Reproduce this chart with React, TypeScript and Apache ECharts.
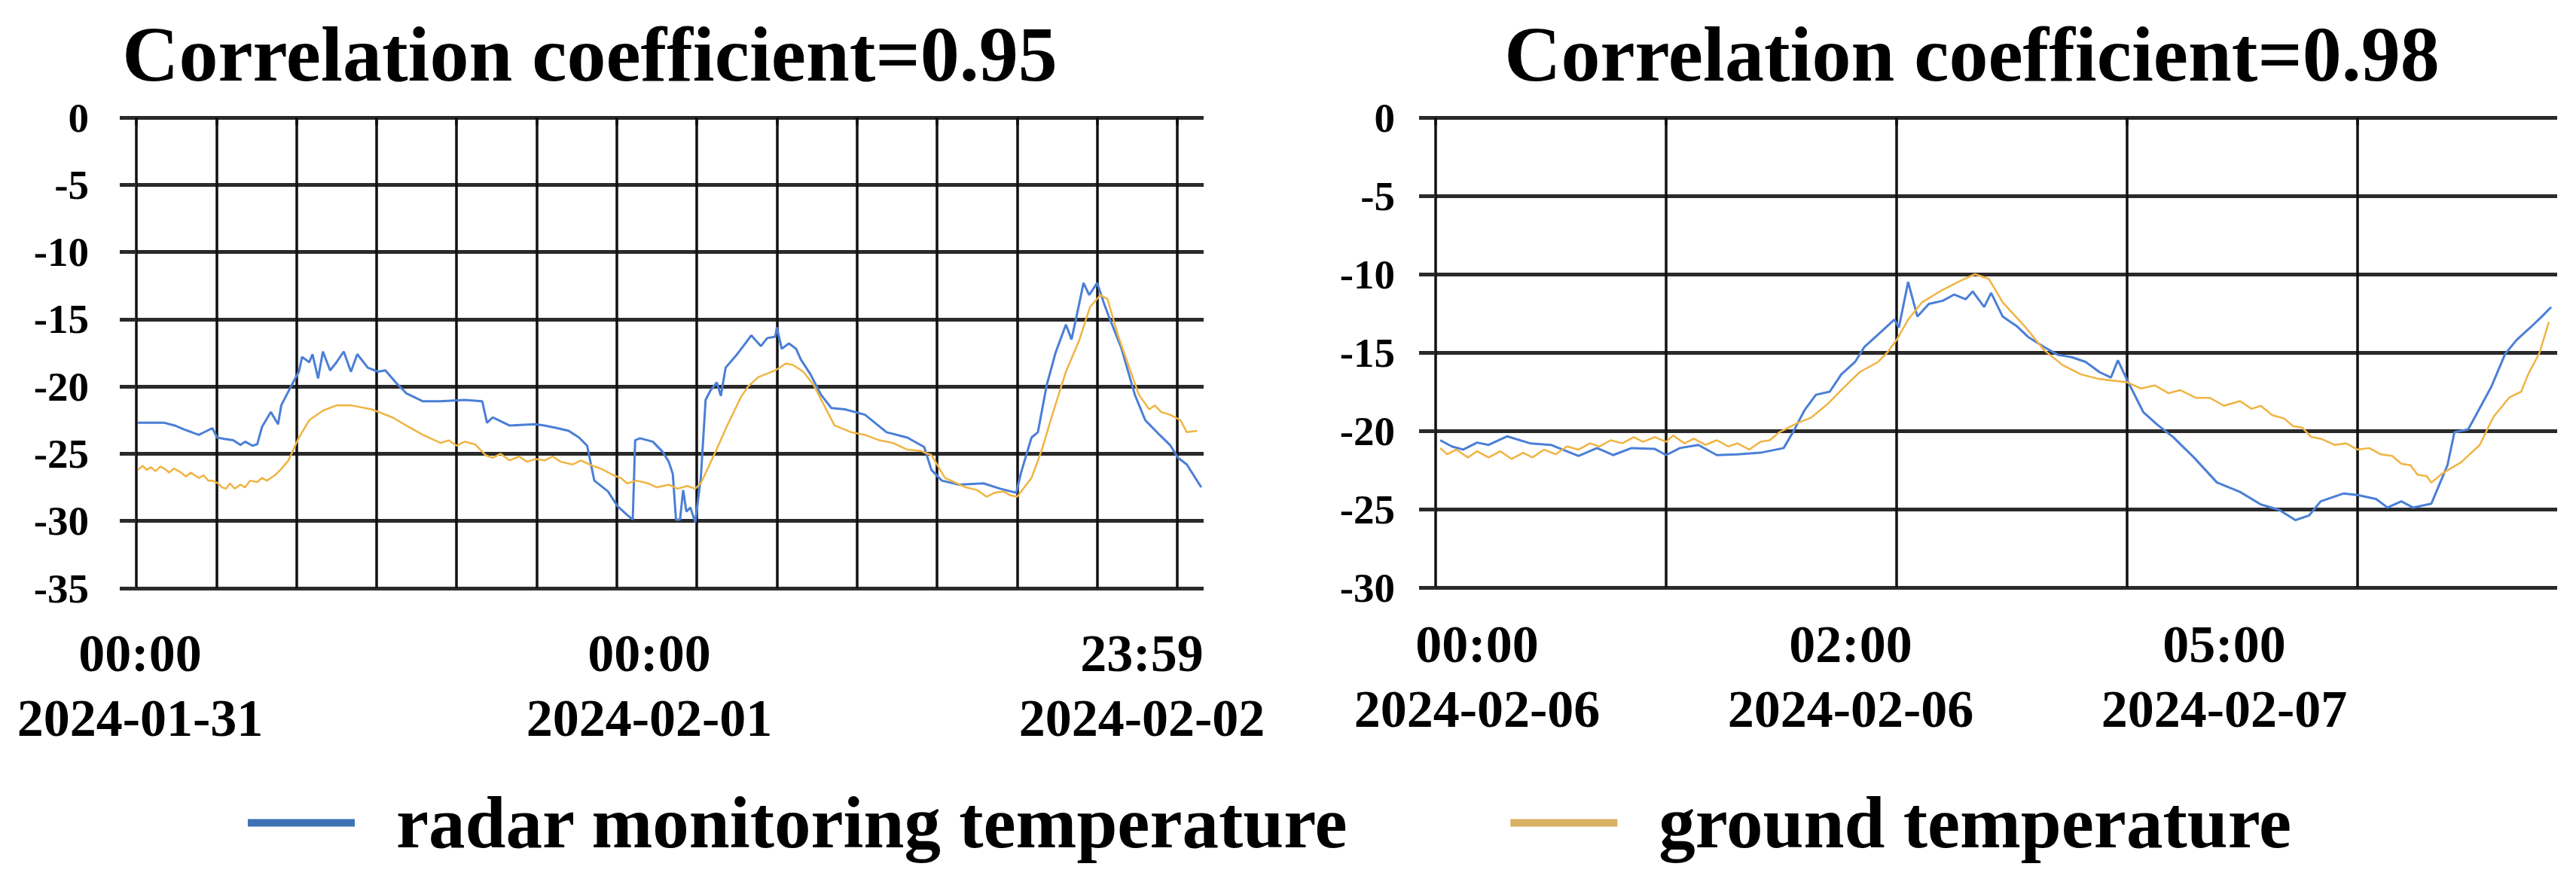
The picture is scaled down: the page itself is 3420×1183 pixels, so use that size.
import React, { useEffect, useRef } from "react";
import * as echarts from "echarts";

// ---- DATA (x in grid steps, y in °C) ----
const leftRadar: [number, number][] = [
  [0.02, -22.7], [0.2, -22.7], [0.35, -22.7], [0.48, -22.9], [0.6, -23.2], [0.78, -23.6], [0.83, -23.45],
  [0.95, -23.1], [1.01, -23.8], [1.1, -23.9], [1.21, -24.0], [1.3, -24.35], [1.36, -24.1], [1.45, -24.4],
  [1.51, -24.3], [1.57, -23.0], [1.68, -21.9], [1.77, -22.8], [1.81, -21.4], [1.94, -19.9], [2.03, -18.9],
  [2.07, -17.8], [2.16, -18.2], [2.2, -17.6], [2.27, -19.4], [2.33, -17.4], [2.42, -18.8], [2.5, -18.2],
  [2.59, -17.4], [2.68, -18.9], [2.76, -17.6], [2.89, -18.6], [3.02, -18.9], [3.11, -18.8], [3.24, -19.7],
  [3.37, -20.5], [3.58, -21.1], [3.8, -21.1], [4.1, -21.0], [4.32, -21.1], [4.38, -22.7], [4.45, -22.3],
  [4.66, -22.9], [4.98, -22.8], [5.1, -22.9], [5.26, -23.1], [5.4, -23.3], [5.53, -23.8], [5.63, -24.4],
  [5.72, -27.0], [5.89, -27.8], [6.01, -28.9], [6.14, -29.6], [6.2, -29.9], [6.23, -24.0], [6.29, -23.85],
  [6.45, -24.1], [6.58, -24.9], [6.65, -25.6], [6.7, -26.5], [6.74, -29.9], [6.79, -29.9], [6.83, -27.7],
  [6.87, -29.3], [6.92, -29.0], [6.98, -30.1], [7.05, -26.8], [7.11, -21.0], [7.17, -20.3], [7.25, -19.7],
  [7.3, -20.7], [7.36, -18.6], [7.49, -17.7], [7.58, -17.0], [7.68, -16.2], [7.8, -17.0], [7.88, -16.4],
  [7.98, -16.3], [8.0, -15.6], [8.06, -17.2], [8.15, -16.8], [8.24, -17.2], [8.3, -18.0], [8.42, -19.1],
  [8.55, -20.6], [8.68, -21.6], [8.85, -21.7], [9.1, -22.1], [9.37, -23.4], [9.63, -23.8], [9.84, -24.5],
  [9.93, -26.2], [10.06, -27.0], [10.27, -27.3], [10.58, -27.2], [10.79, -27.6], [10.99, -27.9],
  [11.05, -26.4], [11.18, -23.8], [11.26, -23.4], [11.37, -19.9], [11.48, -17.5], [11.61, -15.4],
  [11.68, -16.5], [11.76, -14.3], [11.83, -12.3], [11.9, -13.2], [12.0, -12.3], [12.09, -13.9],
  [12.15, -14.85], [12.3, -17.1], [12.47, -20.6], [12.6, -22.5], [12.78, -23.6], [12.91, -24.35],
  [13.01, -25.3], [13.12, -25.8], [13.3, -27.5],
];

const leftGround: [number, number][] = [
  [0.02, -26.2], [0.08, -25.9], [0.13, -26.2], [0.18, -26.0], [0.24, -26.3], [0.3, -25.95], [0.35, -26.1],
  [0.41, -26.4], [0.47, -26.1], [0.56, -26.4], [0.62, -26.7], [0.68, -26.4], [0.78, -26.8], [0.84, -26.6],
  [0.9, -27.0], [0.95, -27.0], [1.02, -27.2], [1.07, -27.5], [1.12, -27.6], [1.17, -27.2], [1.23, -27.6],
  [1.3, -27.3], [1.36, -27.5], [1.42, -27.0], [1.51, -27.1], [1.57, -26.8], [1.63, -27.0], [1.73, -26.6],
  [1.8, -26.2], [1.9, -25.5], [2.03, -23.8], [2.16, -22.5], [2.33, -21.8], [2.5, -21.4], [2.68, -21.4],
  [2.94, -21.7], [3.2, -22.3], [3.37, -22.9], [3.58, -23.6], [3.8, -24.2], [3.9, -24.0], [4.0, -24.4],
  [4.1, -24.1], [4.23, -24.3], [4.36, -25.1], [4.45, -25.3], [4.55, -25.0], [4.66, -25.5], [4.78, -25.2],
  [4.88, -25.6], [4.98, -25.4], [5.1, -25.5], [5.2, -25.2], [5.3, -25.6], [5.45, -25.8], [5.55, -25.5],
  [5.7, -25.9], [5.8, -26.1], [5.96, -26.6], [6.05, -26.8], [6.13, -27.2], [6.25, -27.0], [6.39, -27.2],
  [6.5, -27.5], [6.65, -27.3], [6.76, -27.6], [6.88, -27.4], [6.98, -27.6], [7.05, -27.2], [7.23, -24.9],
  [7.38, -22.9], [7.55, -20.8], [7.64, -20.0], [7.77, -19.3], [7.98, -18.8], [8.11, -18.3], [8.2, -18.4],
  [8.33, -18.9], [8.46, -19.9], [8.59, -21.4], [8.72, -22.9], [8.93, -23.4], [9.1, -23.6], [9.28, -24.0],
  [9.45, -24.2], [9.63, -24.7], [9.8, -24.8], [9.93, -25.1], [10.1, -26.8], [10.36, -27.5], [10.5, -27.7],
  [10.62, -28.2], [10.72, -27.9], [10.83, -27.8], [10.92, -28.1], [11.0, -28.2], [11.18, -26.8],
  [11.31, -24.7], [11.44, -22.1], [11.61, -18.9], [11.78, -16.5], [11.91, -14.1], [12.04, -13.2],
  [12.13, -13.5], [12.26, -16.2], [12.39, -18.4], [12.52, -20.6], [12.65, -21.7], [12.72, -21.4],
  [12.8, -21.9], [12.91, -22.1], [13.04, -22.5], [13.12, -23.4], [13.25, -23.3],
];

const rightRadar: [number, number][] = [
  [0.02, -20.6], [0.07, -21.0], [0.12, -21.2], [0.18, -20.75], [0.23, -20.9], [0.31, -20.35], [0.41, -20.8],
  [0.5, -20.9], [0.62, -21.6], [0.7, -21.1], [0.77, -21.55], [0.85, -21.1], [0.95, -21.15], [1.0, -21.55],
  [1.06, -21.1], [1.14, -20.9], [1.22, -21.55], [1.31, -21.5], [1.41, -21.4], [1.51, -21.1], [1.55, -20.1],
  [1.6, -18.7], [1.65, -17.7], [1.71, -17.5], [1.76, -16.4], [1.82, -15.6], [1.86, -14.65], [1.92, -13.85],
  [1.99, -12.9], [2.01, -13.4], [2.05, -10.5], [2.09, -12.7], [2.14, -11.9], [2.2, -11.7], [2.25, -11.3],
  [2.3, -11.6], [2.33, -11.1], [2.38, -12.1], [2.41, -11.2], [2.46, -12.7], [2.52, -13.3], [2.57, -14.0],
  [2.64, -14.65], [2.7, -15.15], [2.76, -15.3], [2.82, -15.6], [2.88, -16.25], [2.93, -16.6], [2.96, -15.5],
  [3.0, -16.75], [3.07, -18.8], [3.13, -19.6], [3.2, -20.4], [3.29, -21.7], [3.39, -23.3], [3.49, -23.9],
  [3.58, -24.7], [3.66, -25.05], [3.73, -25.7], [3.79, -25.4], [3.84, -24.5], [3.94, -24.0], [4.0, -24.1],
  [4.08, -24.35], [4.13, -24.9], [4.19, -24.5], [4.24, -24.9], [4.32, -24.65], [4.35, -23.6], [4.39, -22.2],
  [4.42, -20.1], [4.48, -19.9], [4.51, -19.1], [4.58, -17.2], [4.64, -15.1], [4.69, -14.2], [4.75, -13.4],
  [4.8, -12.7], [4.84, -12.1],
];

const rightGround: [number, number][] = [
  [0.02, -21.1], [0.05, -21.5], [0.09, -21.2], [0.14, -21.7], [0.18, -21.3], [0.23, -21.7], [0.28, -21.3],
  [0.33, -21.8], [0.38, -21.4], [0.42, -21.7], [0.47, -21.2], [0.52, -21.5], [0.57, -21.0], [0.62, -21.2],
  [0.67, -20.8], [0.71, -21.0], [0.76, -20.6], [0.81, -20.8], [0.86, -20.4], [0.9, -20.7], [0.95, -20.4],
  [1.0, -20.7], [1.03, -20.3], [1.08, -20.8], [1.12, -20.5], [1.17, -20.9], [1.22, -20.6], [1.27, -21.0],
  [1.31, -20.8], [1.36, -21.2], [1.41, -20.7], [1.45, -20.6], [1.49, -20.1], [1.57, -19.5], [1.63, -19.15],
  [1.7, -18.3], [1.76, -17.4], [1.84, -16.25], [1.92, -15.6], [1.96, -15.0], [2.0, -14.2], [2.05, -12.9],
  [2.11, -11.8], [2.2, -11.0], [2.28, -10.4], [2.34, -10.0], [2.4, -10.3], [2.46, -11.8], [2.56, -13.4],
  [2.64, -14.85], [2.72, -15.8], [2.8, -16.4], [2.88, -16.7], [3.0, -16.9], [3.06, -17.3], [3.12, -17.1],
  [3.18, -17.6], [3.23, -17.4], [3.3, -17.9], [3.36, -17.9], [3.42, -18.4], [3.49, -18.1], [3.54, -18.6],
  [3.58, -18.4], [3.63, -19.0], [3.68, -19.2], [3.72, -19.7], [3.76, -19.8], [3.8, -20.4], [3.84, -20.5],
  [3.9, -20.9], [3.95, -20.8], [4.0, -21.2], [4.05, -21.1], [4.1, -21.5], [4.15, -21.6], [4.19, -22.1],
  [4.23, -22.2], [4.26, -22.8], [4.3, -22.9], [4.32, -23.3], [4.37, -22.7], [4.45, -22.0], [4.53, -20.9],
  [4.59, -19.1], [4.66, -17.85], [4.71, -17.5], [4.74, -16.4], [4.79, -15.0], [4.83, -13.05],
];

const titles = ["Correlation coefficient=0.95", "Correlation coefficient=0.98"];
const seriesNames = ["radar monitoring temperature", "ground temperature"];
const leftTimeLabels = ["00:00", "00:00", "23:59"];
const leftDateLabels = ["2024-01-31", "2024-02-01", "2024-02-02"];
const rightTimeLabels = ["00:00", "02:00", "05:00"];
const rightDateLabels = ["2024-02-06", "2024-02-06", "2024-02-07"];
const leftYMin = -35;
const rightYMin = -30;
const yMax = 0;
const yStep = 5;
const leftXMax = 13.33;
const rightXMax = 4.866;

// ---- STYLE / LAYOUT ----
const FONT = '"Liberation Serif", "Times New Roman", Times, serif';
const BLUE = "#4a7fd6";
const ORANGE = "#f0b443";
const hLine = { color: "#2a2a2a", width: 5 };
const vLine = { color: "#111111", width: 3.5 };

const leftLabelX = [186, 862, 1516];
const rightLabelX = [1961, 2457, 2953];

function intTicks(max: number): number[] {
  const out: number[] = [];
  for (let i = 0; i <= Math.floor(max); i++) out.push(i);
  return out;
}

function txt(text: string, x: number, y: number, size: number) {
  return {
    type: "text",
    x,
    y,
    silent: true,
    style: {
      text,
      fill: "#000",
      fontSize: size,
      fontWeight: "bold",
      fontFamily: FONT,
      align: "center",
      verticalAlign: "middle",
      textAlign: "center",
      textVerticalAlign: "middle",
    },
  };
}

function xAxisCfg(gridIndex: number, max: number) {
  return {
    type: "value",
    gridIndex,
    min: 0,
    max,
    interval: 1,
    axisLine: { show: false },
    axisTick: { show: true, inside: false, length: 10, lineStyle: vLine, customValues: intTicks(max) },
    axisLabel: { show: false },
    splitLine: { show: true, showMinLine: true, showMaxLine: true, lineStyle: vLine },
  };
}

function yAxisCfg(gridIndex: number, min: number, margin: number) {
  return {
    type: "value",
    gridIndex,
    min,
    max: yMax,
    interval: yStep,
    axisLine: { show: false },
    axisTick: { show: true, inside: false, length: 22, lineStyle: hLine },
    axisLabel: {
      margin,
      fontSize: 55,
      fontWeight: "bold",
      fontFamily: FONT,
      color: "#000",
      padding: [12, 0, 0, 0],
    },
    splitLine: { show: true, lineStyle: hLine },
  };
}

export default function App() {
  const ref = useRef<HTMLDivElement>(null);
  useEffect(() => {
    if (!ref.current) return;
    const chart = echarts.init(ref.current, null, { renderer: "svg" });
    const graphics: any[] = [
      txt(titles[0], 783, 71, 104),
      txt(titles[1], 2618, 71, 104),
    ];
    leftTimeLabels.forEach((t, i) => graphics.push(txt(t, leftLabelX[i], 867, 70)));
    leftDateLabels.forEach((t, i) => graphics.push(txt(t, leftLabelX[i], 953, 70)));
    rightTimeLabels.forEach((t, i) => graphics.push(txt(t, rightLabelX[i], 855, 70)));
    rightDateLabels.forEach((t, i) => graphics.push(txt(t, rightLabelX[i], 941, 70)));

    const option: any = {
      animation: false,
      backgroundColor: "#ffffff",
      grid: [
        { left: 181, top: 156, width: 1417, height: 625, outerBoundsMode: "none", containLabel: false },
        { left: 1906, top: 156, width: 1489, height: 624, outerBoundsMode: "none", containLabel: false },
      ],
      xAxis: [xAxisCfg(0, leftXMax), xAxisCfg(1, rightXMax)],
      yAxis: [yAxisCfg(0, leftYMin, 63), yAxisCfg(1, rightYMin, 54)],
      legend: {
        left: 329,
        top: 1044,
        padding: 0,
        icon: "rect",
        itemWidth: 142,
        itemHeight: 10,
        itemGap: 215,
        selectedMode: false,
        data: [
          { name: seriesNames[0], itemStyle: { color: "#3f72b5" } },
          { name: seriesNames[1], itemStyle: { color: "#dab062" } },
        ],
        textStyle: {
          fontSize: 97,
          fontWeight: "bold",
          fontFamily: FONT,
          color: "#000",
          padding: [0, 0, 26, 50],
        },
      },
      graphic: graphics,
      series: [
        { name: seriesNames[0], type: "line", xAxisIndex: 0, yAxisIndex: 0, data: leftRadar, showSymbol: false,
          lineStyle: { width: 3, color: BLUE }, itemStyle: { color: BLUE } },
        { name: seriesNames[1], type: "line", xAxisIndex: 0, yAxisIndex: 0, data: leftGround, showSymbol: false,
          lineStyle: { width: 2.5, color: ORANGE }, itemStyle: { color: ORANGE } },
        { name: seriesNames[0], type: "line", xAxisIndex: 1, yAxisIndex: 1, data: rightRadar, showSymbol: false,
          lineStyle: { width: 3, color: BLUE }, itemStyle: { color: BLUE } },
        { name: seriesNames[1], type: "line", xAxisIndex: 1, yAxisIndex: 1, data: rightGround, showSymbol: false,
          lineStyle: { width: 2.5, color: ORANGE }, itemStyle: { color: ORANGE } },
      ],
    };
    chart.setOption(option);
    return () => chart.dispose();
  }, []);
  return (
    <div
      ref={ref}
      style={{ position: "fixed", left: 0, top: 0, width: 3420, height: 1183, background: "#fff" }}
    />
  );
}
